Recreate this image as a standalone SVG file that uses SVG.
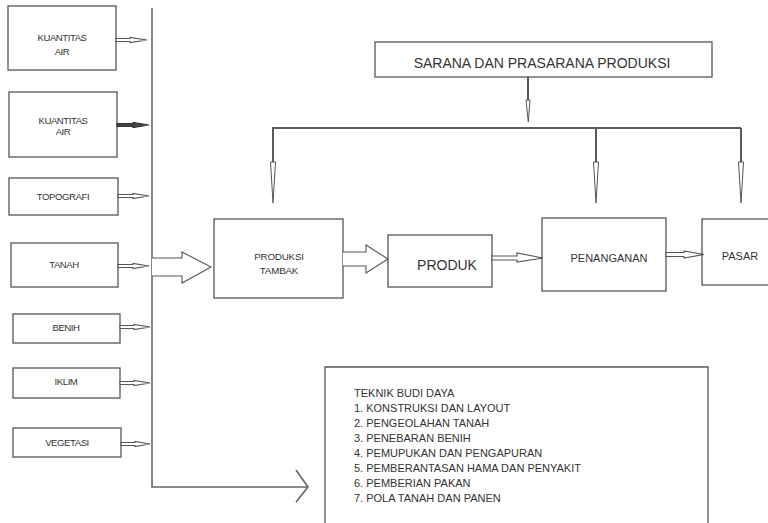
<svg xmlns="http://www.w3.org/2000/svg" width="768" height="523" viewBox="0 0 768 523">
  <style>
    .box { fill: #ffffff; stroke: #555555; stroke-width: 1.3; }
    .ln { fill: none; stroke: #666666; stroke-width: 1.6; }
    .thick { fill: none; stroke: #5a5a5a; stroke-width: 2; }
    .blk { fill: #ffffff; stroke: #555555; stroke-width: 1.1; stroke-linejoin: miter; }
    .blkd { fill: #444444; stroke: #333333; stroke-width: 1.1; }
    .tip { fill: #ffffff; stroke: #555555; stroke-width: 1; }
    .t { font-family: "Liberation Sans", Arial, sans-serif; fill: #333333; text-anchor: middle; }
    .s { font-size: 9.6px; letter-spacing: -0.45px; }
    .m { font-size: 11px; }
    .l { font-size: 14px; }
    .list { font-family: "Liberation Sans", Arial, sans-serif; fill: #333333; font-size: 11px; }
  </style>

  <rect width="768" height="523" fill="#ffffff"/>

  <!-- input factors -->
  <g id="kuantitas-air-1">
    <rect class="box" x="8" y="6" width="108" height="64"/>
    <text class="t s" x="62" y="41">KUANTITAS</text>
    <text class="t s" x="62" y="55">AIR</text>
  </g>
  <g id="kuantitas-air-2">
    <rect class="box" x="9" y="92" width="108" height="65"/>
    <text class="t s" x="63" y="124">KUANTITAS</text>
    <text class="t s" x="63" y="135">AIR</text>
  </g>
  <g id="topografi">
    <rect class="box" x="9" y="178" width="109" height="37"/>
    <text class="t s" x="63" y="200">TOPOGRAFI</text>
  </g>
  <g id="tanah">
    <rect class="box" x="11" y="243" width="107" height="44"/>
    <text class="t s" x="64" y="268">TANAH</text>
  </g>
  <g id="benih">
    <rect class="box" x="13" y="314" width="107" height="29"/>
    <text class="t s" x="66" y="331">BENIH</text>
  </g>
  <g id="iklim">
    <rect class="box" x="13" y="368" width="107" height="30"/>
    <text class="t s" x="66" y="385">IKLIM</text>
  </g>
  <g id="vegetasi">
    <rect class="box" x="13" y="428" width="108" height="29"/>
    <text class="t s" x="67" y="446">VEGETASI</text>
  </g>

  <!-- main flow -->
  <g id="produksi-tambak">
    <rect class="box" x="214" y="219" width="129" height="79"/>
    <text class="t" x="279" y="260" font-size="9.8" letter-spacing="-0.2">PRODUKSI</text>
    <text class="t" x="279" y="274" font-size="9.8" letter-spacing="-0.2">TAMBAK</text>
  </g>
  <g id="produk">
    <rect class="box" x="388" y="235" width="104" height="52"/>
    <text class="t l" x="447" y="270">PRODUK</text>
  </g>
  <g id="penanganan">
    <rect class="box" x="542" y="218" width="124" height="73"/>
    <text class="t m" x="609" y="262">PENANGANAN</text>
  </g>
  <g id="pasar">
    <rect class="box" x="702" y="219" width="80" height="66"/>
    <text class="t m" x="740" y="260">PASAR</text>
  </g>
  <g id="sarana-prasarana">
    <rect class="box" x="375" y="42" width="337" height="35"/>
    <text class="t l" x="542" y="68">SARANA DAN PRASARANA PRODUKSI</text>
  </g>
  <g id="teknik-budi-daya">
    <path class="box" d="M325,530 V367 H708 V530"/>
    <text class="list" x="354" y="397">TEKNIK BUDI DAYA</text>
    <text class="list" x="354" y="412">1. KONSTRUKSI DAN LAYOUT</text>
    <text class="list" x="354" y="427">2. PENGEOLAHAN TANAH</text>
    <text class="list" x="354" y="442">3. PENEBARAN BENIH</text>
    <text class="list" x="354" y="457">4. PEMUPUKAN DAN PENGAPURAN</text>
    <text class="list" x="354" y="472">5. PEMBERANTASAN HAMA DAN PENYAKIT</text>
    <text class="list" x="354" y="487">6. PEMBERIAN PAKAN</text>
    <text class="list" x="354" y="502">7. POLA TANAH DAN PANEN</text>
  </g>

  <g id="connectors">
    <!-- collecting line with turn to the cultivation box -->
    <path class="ln" d="M152,8 V487 H308"/>
    <path class="ln" d="M296,470 L308,487 L296,502"/>

    <!-- thin block arrows from each factor -->
    <path class="blk" d="M116,38.5 H130 V37.5 L147,40 L130,42.5 V41.5 H116 Z"/>
    <path class="blkd" d="M117,123.5 H133 V122.5 L149,125 L133,127.5 V126.5 H117 Z"/>
    <path class="blk" d="M118,194.5 H133 V193.5 L149,196 L133,198.5 V197.5 H118 Z"/>
    <path class="blk" d="M118,264.5 H133 V263.5 L149,266 L133,268.5 V267.5 H118 Z"/>
    <path class="blk" d="M120,325.5 H134 V324.5 L150,327 L134,329.5 V328.5 H120 Z"/>
    <path class="blk" d="M120,381.5 H134 V380.5 L150,383 L134,385.5 V384.5 H120 Z"/>
    <path class="blk" d="M121,442.5 H135 V441.5 L150,444 L135,446.5 V445.5 H121 Z"/>

    <!-- wide open arrows -->
    <path class="blk" d="M152,258 H182 V252 L211,267 L182,283 V276 H152"/>
    <path class="blk" d="M343,252 H366 V245 L388,259 L366,273 V266 H343"/>

    <!-- product chain -->
    <path class="blk" d="M492,256 H517 V253 L543,258 L517,262 V260 H492 Z"/>
    <path class="blk" d="M666,252.5 H684 V251 L704,254.5 L684,258 V256.5 H666 Z"/>

    <!-- facilities distribution -->
    <line class="thick" x1="528" y1="77" x2="528" y2="101"/>
    <path class="tip" d="M526,100 L530,100 L528.3,122 Z"/>
    <line class="thick" x1="272" y1="128" x2="741" y2="128"/>
    <line class="thick" x1="273" y1="128" x2="273" y2="163"/>
    <path class="tip" d="M270.5,162 L275.5,162 L273,203 Z"/>
    <line class="thick" x1="596" y1="128" x2="596" y2="163"/>
    <path class="tip" d="M593.5,162 L598.5,162 L596,203 Z"/>
    <line class="thick" x1="741" y1="128" x2="741" y2="163"/>
    <path class="tip" d="M738.5,162 L743.5,162 L741,203 Z"/>
  </g>
</svg>
